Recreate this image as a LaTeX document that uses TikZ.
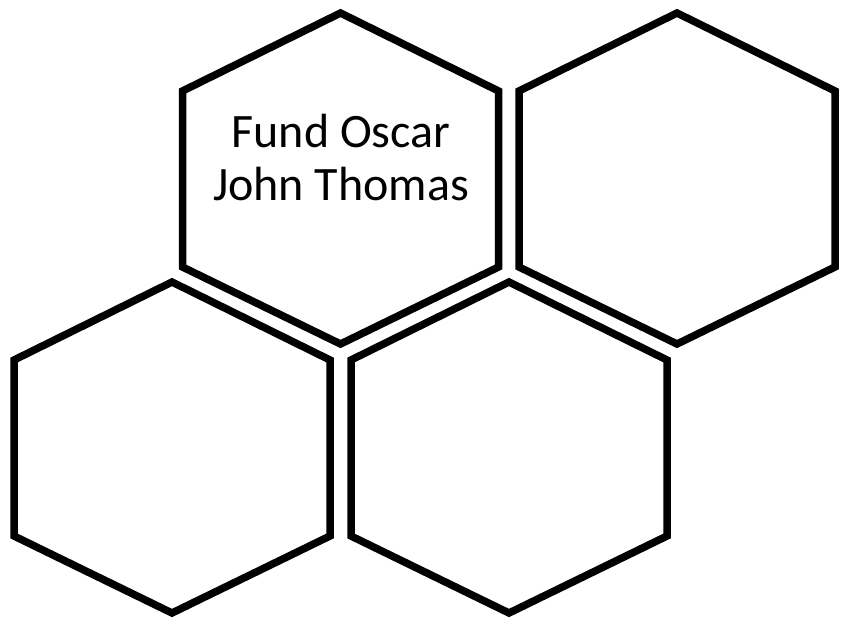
\documentclass[tikz,border=0pt]{standalone}
\usepackage{fontspec}
\setmainfont{Carlito}
\begin{document}
\begin{tikzpicture}[x=1pt,y=-1pt,
  hexline/.style={draw=black,line width=7.5pt,line join=miter},
  label/.style={align=center,font=\fontsize{48}{53}\selectfont,text=black}]
\useasboundingbox (0,0) rectangle (841,619);
% hexagon: centre x, top y; width 316, height 331, vertical sides from +78 to +254
\newcommand\hexshape[2]{%
  \draw[hexline] (#1,#2) -- ++(158,78) -- ++(0,176) -- ++(-158,77) -- ++(-158,-77) -- ++(0,-176) -- cycle;}
\hexshape{340.5}{13}
\hexshape{677}{13}
\hexshape{172}{282}
\hexshape{509}{282}
\node[label] (t1) at (341,158) {Fund Oscar\\John Thomas};
\end{tikzpicture}
\end{document}
